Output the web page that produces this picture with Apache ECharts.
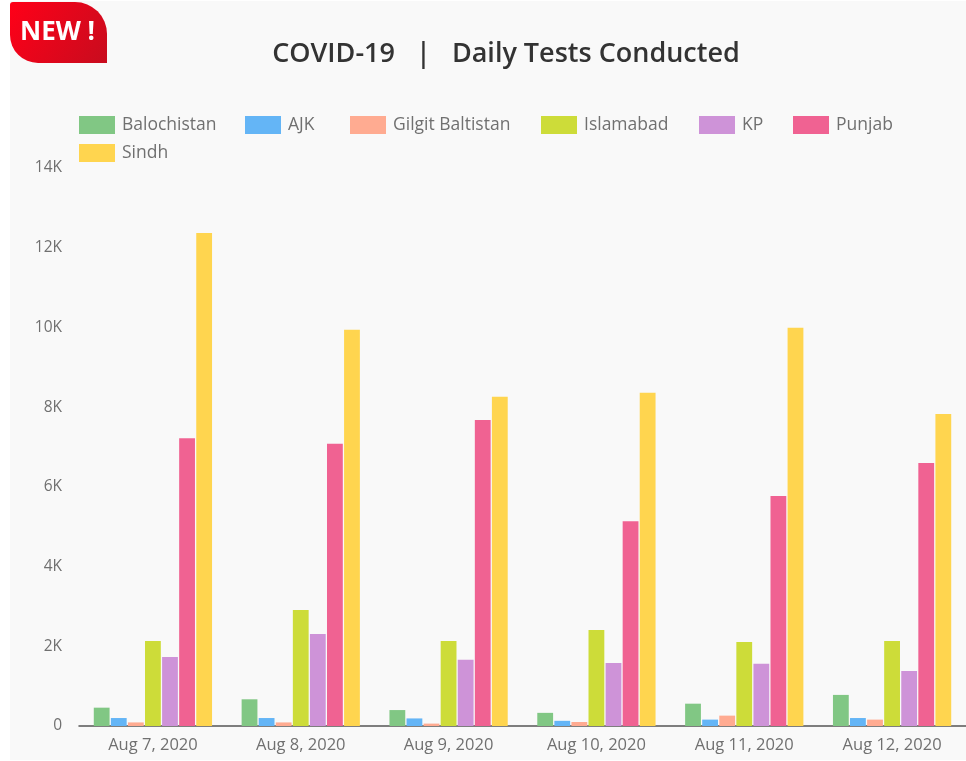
<!DOCTYPE html>
<html><head><meta charset="utf-8">
<style>html,body{margin:0;padding:0;background:#fff}#c{width:966px;height:761px}</style>
<script src="https://cdn.jsdelivr.net/npm/echarts@6/dist/echarts.min.js"></script>
</head><body><div id="c"></div>
<script>
const categories=['Aug 7, 2020','Aug 8, 2020','Aug 9, 2020','Aug 10, 2020','Aug 11, 2020','Aug 12, 2020'];
const balochistan=[460,670,400,330,560,780];
const ajk=[200,200,190,130,160,200];
const gilgit=[90,90,60,100,260,160];
const islamabad=[2130,2910,2130,2410,2110,2130];
const kp=[1730,2310,1660,1580,1560,1380];
const punjab=[7220,7080,7680,5140,5770,6600];
const sindh=[12370,9940,8260,8360,9990,7830];
const names=['Balochistan','AJK','Gilgit Baltistan','Islamabad','KP','Punjab','Sindh'];
const colors=['#81c784','#64b5f6','#ffab91','#cddc39','#ce93d8','#f06292','#ffd54f'];
const values=[balochistan,ajk,gilgit,islamabad,kp,punjab,sindh];
const font='"Open Sans"';
const legendLeft=[79,245,350,541,699,793,79];
const legendTop=[116,116,116,116,116,116,144];
const chart=echarts.init(document.getElementById('c'),null,{renderer:'canvas'});
chart.setOption({
  animation:false,
  backgroundColor:'#ffffff',
  textStyle:{fontFamily:font},
  title:{text:'COVID-19   |   Daily Tests Conducted',left:501,top:36,textAlign:'center',
    textStyle:{fontFamily:font,fontSize:27,fontWeight:600,color:'#333333'}},
  legend:names.map((n,i)=>({left:legendLeft[i],top:legendTop[i],itemWidth:36,itemHeight:18,padding:0,icon:'rect',
    data:[n],textStyle:{fontFamily:font,fontSize:17.5,color:'#707070',padding:[4,0,0,2]}})),
  grid:{left:79,right:-1,top:168,bottom:35,containLabel:false},
  xAxis:{type:'category',data:categories,
    axisLine:{lineStyle:{color:'#555555',width:1.5}},axisTick:{show:false},
    axisLabel:{fontFamily:font,fontSize:16.5,color:'#707070',margin:11}},
  yAxis:{type:'value',min:0,max:14000,interval:2000,
    splitLine:{show:false},axisLine:{show:false},axisTick:{show:false},
    axisLabel:{fontFamily:font,fontSize:15.5,color:'#707070',margin:17,padding:[4,0,0,0],
      formatter:v=>v===0?'0':(v/1000)+'K'}},
  graphic:[
    {type:'rect',z:-10,silent:true,shape:{x:10,y:1,width:956,height:759},style:{fill:'#f9f9f9'}},
    {type:'rect',z:10,silent:true,shape:{x:10,y:2,width:97,height:61,r:[3,32,0,28]},
      style:{fill:new echarts.graphic.LinearGradient(0,0,1,1,[{offset:0,color:'#ff0018'},{offset:1,color:'#c80c1e'}])}},
    {type:'text',z:11,silent:true,x:20,y:20,style:{text:'NEW !',fill:'#ffffff',font:'bold 26px '+font}}
  ],
  series:names.map((n,i)=>({name:n,type:'bar',data:values[i],
    barCategoryGap:'20%',barGap:'8%',itemStyle:{color:colors[i]}}))
});
</script></body></html>
